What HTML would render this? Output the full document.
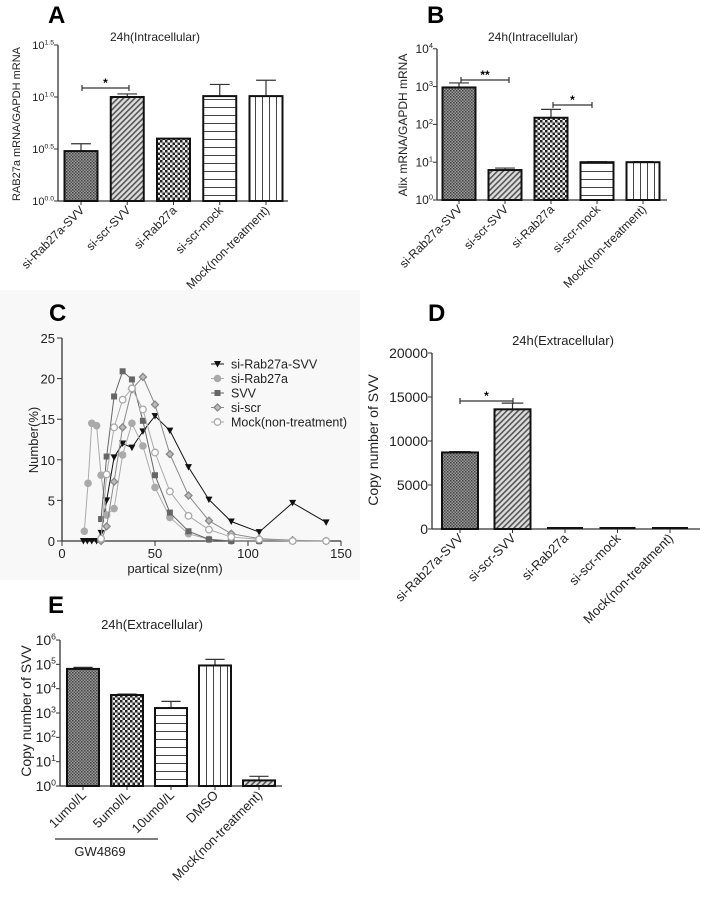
<!DOCTYPE html>
<html><head><meta charset="utf-8"><style>
html,body{margin:0;padding:0;background:#fff;}
svg{display:block;font-family:"Liberation Sans",Arial,sans-serif;}
</style></head><body>
<svg id="fig" width="708" height="909" viewBox="0 0 708 909">
<defs>
<pattern id="pFine" width="3" height="3" patternUnits="userSpaceOnUse"><rect width="3" height="3" fill="#999"/><rect width="1.5" height="1.5" fill="#444"/><rect x="1.5" y="1.5" width="1.5" height="1.5" fill="#555"/></pattern>
<pattern id="pDiag" width="4" height="4" patternUnits="userSpaceOnUse" patternTransform="rotate(45)"><rect width="4" height="4" fill="#ddd"/><rect width="1.6" height="4" fill="#555"/></pattern>
<pattern id="pCheck" width="5" height="5" patternUnits="userSpaceOnUse"><rect width="5" height="5" fill="#eee"/><rect width="2.5" height="2.5" fill="#222"/><rect x="2.5" y="2.5" width="2.5" height="2.5" fill="#222"/></pattern>
<pattern id="pHor" width="6" height="8" patternUnits="userSpaceOnUse"><rect width="6" height="8" fill="#fff"/><rect y="3" width="6" height="1" fill="#444"/></pattern>
<pattern id="pVer" width="7" height="6" patternUnits="userSpaceOnUse"><rect width="7" height="6" fill="#fff"/><rect x="3" width="1" height="6" fill="#444"/></pattern>
</defs>
<rect x="0" y="290" width="360" height="290" fill="#f8f8f8"/>
<g id="root"></g>
</svg>
<script>
// ---- Panel A data ----
const catsAB = ["si-Rab27a-SVV","si-scr-SVV","si-Rab27a","si-scr-mock","Mock(non-treatment)"];
const valuesA = [3.02, 10.0, 3.98, 10.2, 10.2];
const errA = [3.55, 10.7, 3.98, 13.2, 14.5];
const ticksA = ["0.0","0.5","1.0","1.5"];
// ---- Panel B data ----
const valuesB = [950, 6.2, 150, 10, 10];
const errB = [1250, 7.0, 250, 10.3, 10.4];
const ticksB = ["0","1","2","3","4"];
// ---- Panel C data ----
const xC = [21,24,28,32.6,37.6,43.5,50,58,68,79,91,106,124,142];
const xCRab = [11.5,13.6,16,18.6];
const ySiRabSVV = [0,0,0,0,1.0,5.0,10.3,12.0,11.5,13.5,15.4,13.6,9.1,5.1,2.4,1.1,4.7,2.3];
const xSiRab = [12,14,16,18.6];
const ySiRab = [1.2,7.1,14.5,14.2,8.1,3.2,4.0,10.6,14.5,11.7,6.6,2.9,0.9,0.2,0,0,0,0];
const ySVV = [2.7,10.4,17.8,20.9,19.9,14.8,8.1,3.5,1.2,0.2,0,0,0,0];
const ySiScr = [0,1.8,7.3,14.0,18.7,20.2,16.8,10.7,5.6,2.5,0.9,0.3,0.1,0];
const yMock = [0.3,8.2,14.0,17.4,18.8,16.2,10.9,6.1,3.1,1.4,0.5,0.2,0,0];
const ticksCx = [0,50,100,150];
const ticksCy = [0,5,10,15,20,25];
const legendC = ["si-Rab27a-SVV","si-Rab27a","SVV","si-scr","Mock(non-treatment)"];
// ---- Panel D data ----
const valuesD = [8700, 13600, 0, 50, 50];
const errD = [8800, 14300, 0, 50, 50];
const ticksD = [0,5000,10000,15000,20000];
// ---- Panel E data ----
const catsE = ["1umol/L","5umol/L","10umol/L","DMSO","Mock(non-treatment)"];
const valuesE = [65000, 5500, 1600, 90000, 1.7];
const errE = [75000, 6000, 3000, 160000, 2.5];
const ticksE = ["0","1","2","3","4","5","6"];

const NS="http://www.w3.org/2000/svg";
const root=document.getElementById('root');
function mk(tag,attrs,parent,text){const e=document.createElementNS(NS,tag);for(const k in attrs)e.setAttribute(k,attrs[k]);if(text!==undefined)e.textContent=text;(parent||root).appendChild(e);return e;}
function line(x1,y1,x2,y2,w,c,p){return mk('line',{x1,y1,x2,y2,stroke:c||'#000','stroke-width':w||1},p);}
const fills=["url(#pFine)","url(#pDiag)","url(#pCheck)","url(#pHor)","url(#pVer)"];
const fillsE=["url(#pFine)","url(#pCheck)","url(#pHor)","url(#pVer)","url(#pDiag)"];

function powLabel(g,x,y,exp,size){
  const t=mk('text',{x:x,y:y,'text-anchor':'end','font-size':size,fill:'#222'},g);
  mk('tspan',{},t,'10');
  mk('tspan',{dy:-size*0.4,'font-size':size*0.62},t,exp);
  return t;
}

function barPanel(cfg){
  const g=mk('g',{});
  
  
  const ya=line(cfg.ax,cfg.yTop,cfg.ax,cfg.y0,1.3,'#333',g);
  
  const xa=line(cfg.ax,cfg.y0,cfg.axEnd,cfg.y0,1.3,'#333',g);
  
  cfg.ticks.forEach((tk,i)=>{
    const y=cfg.tickY(tk);
    line(cfg.ax-4,y,cfg.ax,y,1,'#333',g);
    let t;
    if(cfg.log){t=powLabel(g,cfg.ax-4,y+cfg.fs*0.35,tk,cfg.fs);}
    else{t=mk('text',{x:cfg.ax-4,y:y+cfg.fs*0.35,'text-anchor':'end','font-size':cfg.fs,fill:'#222'},g,String(tk));}
    
  });
  cfg.values.forEach((v,i)=>{
    const cx=cfg.cx(i), w=cfg.bw, top=cfg.y(v);
    line(cx,cfg.y0,cx,cfg.y0+4,1,'#333',g);
    const e=cfg.err[i];
    if(e!==undefined&&e>v){const ey=cfg.y(e);
      const el=line(cx,top,cx,ey,1.2,'#333',g);line(cx-w*0.3,ey,cx+w*0.3,ey,1.2,'#333',g);
      }
    const h=Math.max(cfg.y0-top,0);
    if(h>0.5){
      const r=mk('rect',{x:cx-w/2,y:top,width:w,height:h,fill:cfg.fills[i],stroke:'#111','stroke-width':2},g);
      
      
    } else {
      const r=line(cx-w/2,cfg.y0-1,cx+w/2,cfg.y0-1,2,'#111',g);
      
      
    }
    const lx=cx+4, ly=cfg.y0+10;
    const t=mk('text',{x:lx,y:ly,'text-anchor':'end','font-size':cfg.xfs,fill:'#222',transform:`rotate(-45 ${lx} ${ly})`},g,cfg.cats[i]);
    
  });
  return g;
}

const yA=v=>201-Math.log10(v)*104;
barPanel({name:'panel-a-chart',ax:58,axEnd:288,yTop:45,y0:201,ticks:ticksA,log:true,tickY:t=>201-parseFloat(t)*104,fs:11,
  values:valuesA,err:errA,y:yA,cx:i=>81+i*46.25,bw:33,fills:fills,cats:catsAB,xfs:12});
const yB=v=>200-Math.log10(v)*37.8;
barPanel({name:'panel-b-chart',ax:437,axEnd:667,yTop:49,y0:200,ticks:ticksB,log:true,tickY:t=>200-parseFloat(t)*37.8,fs:12,
  values:valuesB,err:errB,y:yB,cx:i=>459+i*46,bw:33,fills:fills,cats:catsAB,xfs:12});
const yD=v=>529-v*176/20000;
barPanel({name:'panel-d-chart',ax:432,axEnd:700,yTop:353,y0:529,ticks:ticksD,log:false,tickY:t=>yD(t),fs:14,
  values:valuesD,err:errD,y:yD,cx:i=>460+i*52.5,bw:36,fills:fills,cats:catsAB,xfs:13});
const yE=v=>786-Math.log10(v)*24.33;
barPanel({name:'panel-e-chart',ax:60,axEnd:282,yTop:640,y0:786,ticks:ticksE,log:true,tickY:t=>786-parseFloat(t)*24.33,fs:14,
  values:valuesE,err:errE,y:yE,cx:i=>83+i*44,bw:32,fills:fillsE,cats:catsE,xfs:13});

function sig(x1,x2,y,label,name){
  const g=mk('g',{});
  
  line(x1,y,x2,y,1.2,'#333',g);line(x1,y-3,x1,y+3,1.2,'#333',g);line(x2,y-3,x2,y+3,1.2,'#333',g);
  mk('text',{x:(x1+x2)/2,y:y-1,'text-anchor':'middle','font-size':12,'font-weight':'bold'},g,label);
}
sig(82,129,88,'*','sig-a');
sig(461,509,80,'**','sig-b-1');
sig(553,592,105,'*','sig-b-2');
sig(460,513,401,'*','sig-d');

const xc=v=>62+v*(341-62)/150, yc=v=>541-v*(203/25);
const gC=mk('g',{});

line(62,338,62,541,1.3,'#333',gC);line(62,541,341,541,1.3,'#333',gC);
ticksCy.forEach(t=>{line(57,yc(t),62,yc(t),1,'#333',gC);const e=mk('text',{x:55,y:yc(t)+5,'text-anchor':'end','font-size':13,fill:'#222'},gC,String(t));
  });
ticksCx.forEach(t=>{line(xc(t),541,xc(t),546,1,'#333',gC);const e=mk('text',{x:xc(t),y:558,'text-anchor':'middle','font-size':13,fill:'#222'},gC,String(t));
  });
const seriesC=[
  {xs:xCRab.concat(xC),ys:ySiRabSVV,col:'#111',m:'tri',name:'series-si-rab27a-svv'},
  {xs:xSiRab.concat(xC),ys:ySiRab,col:'#aaa',m:'circ',name:'series-si-rab27a'},
  {xs:xC,ys:ySVV,col:'#666',m:'sq',name:'series-svv'},
  {xs:xC,ys:ySiScr,col:'#888',m:'dia',name:'series-si-scr'},
  {xs:xC,ys:yMock,col:'#aaa',m:'ocirc',name:'series-mock'}];
function marker(g,m,x,y,col){
  if(m==='tri')return mk('path',{d:`M${x-3.5},${y-3} L${x+3.5},${y-3} L${x},${y+3.5}Z`,fill:col},g);
  if(m==='circ')return mk('circle',{cx:x,cy:y,r:3.8,fill:col},g);
  if(m==='sq')return mk('rect',{x:x-3,y:y-3,width:6,height:6,fill:col},g);
  if(m==='dia')return mk('path',{d:`M${x},${y-3.5} L${x+3.5},${y} L${x},${y+3.5} L${x-3.5},${y}Z`,fill:'#bbb',stroke:col,'stroke-width':1.3},g);
  return mk('circle',{cx:x,cy:y,r:3.3,fill:'#fff',stroke:col,'stroke-width':1.3},g);
}
seriesC.forEach(s=>{
  const g=mk('g',{},gC);
  
  const pts=s.xs.map((x,i)=>xc(x)+','+yc(s.ys[i])).join(' ');
  mk('polyline',{points:pts,fill:'none',stroke:s.col,'stroke-width':1},g);
  s.xs.forEach((x,i)=>{const p=marker(g,s.m,xc(x),yc(s.ys[i]),s.col);
    });
});
legendC.forEach((lab,i)=>{
  const y=364+i*14.5;
  const g=mk('g',{},gC);
  
  line(211,y,224,y,1,seriesC[i].col,g);marker(g,seriesC[i].m,217.5,y,seriesC[i].col);
  mk('text',{x:231,y:y+4.5,'font-size':12.5,fill:'#222'},g,lab);
});

function txt(x,y,s,attrs,name){const a=Object.assign({x,y,fill:'#222'},attrs);const t=mk('text',a,root,s);return t;}
txt(48,23,'A',{'font-size':24,'font-weight':'bold',fill:'#000'},'panel-label-a');
txt(427,23,'B',{'font-size':24,'font-weight':'bold',fill:'#000'},'panel-label-b');
txt(49,321,'C',{'font-size':24,'font-weight':'bold',fill:'#000'},'panel-label-c');
txt(428,321,'D',{'font-size':24,'font-weight':'bold',fill:'#000'},'panel-label-d');
txt(48,613,'E',{'font-size':24,'font-weight':'bold',fill:'#000'},'panel-label-e');
txt(155,41,'24h(Intracellular)',{'font-size':12,'text-anchor':'middle'},'title-a');
txt(533,41,'24h(Intracellular)',{'font-size':12,'text-anchor':'middle'},'title-b');
txt(563,345,'24h(Extracellular)',{'font-size':13,'text-anchor':'middle'},'title-d');
txt(152,629,'24h(Extracellular)',{'font-size':13,'text-anchor':'middle'},'title-e');
txt(20,124,'RAB27a mRNA/GAPDH mRNA',{'font-size':11,'text-anchor':'middle',transform:'rotate(-90 20 124)'},'y-axis-title-a');
txt(407,125,'Alix mRNA/GAPDH mRNA',{'font-size':12,'text-anchor':'middle',transform:'rotate(-90 407 125)'},'y-axis-title-b');
txt(38,440,'Number(%)',{'font-size':13,'text-anchor':'middle',transform:'rotate(-90 38 440)'},'y-axis-title-c');
txt(175,573,'partical size(nm)',{'font-size':13,'text-anchor':'middle'},'x-axis-title-c');
txt(378,440,'Copy number of SVV',{'font-size':14,'text-anchor':'middle',transform:'rotate(-90 378 440)'},'y-axis-title-d');
txt(31,711,'Copy number of SVV',{'font-size':14,'text-anchor':'middle',transform:'rotate(-90 31 711)'},'y-axis-title-e');
const gl=line(55,839,158,839,1.2,'#333');
txt(100,856,'GW4869',{'font-size':13,'text-anchor':'middle'},'gw4869-label');
</script>
</body></html>
